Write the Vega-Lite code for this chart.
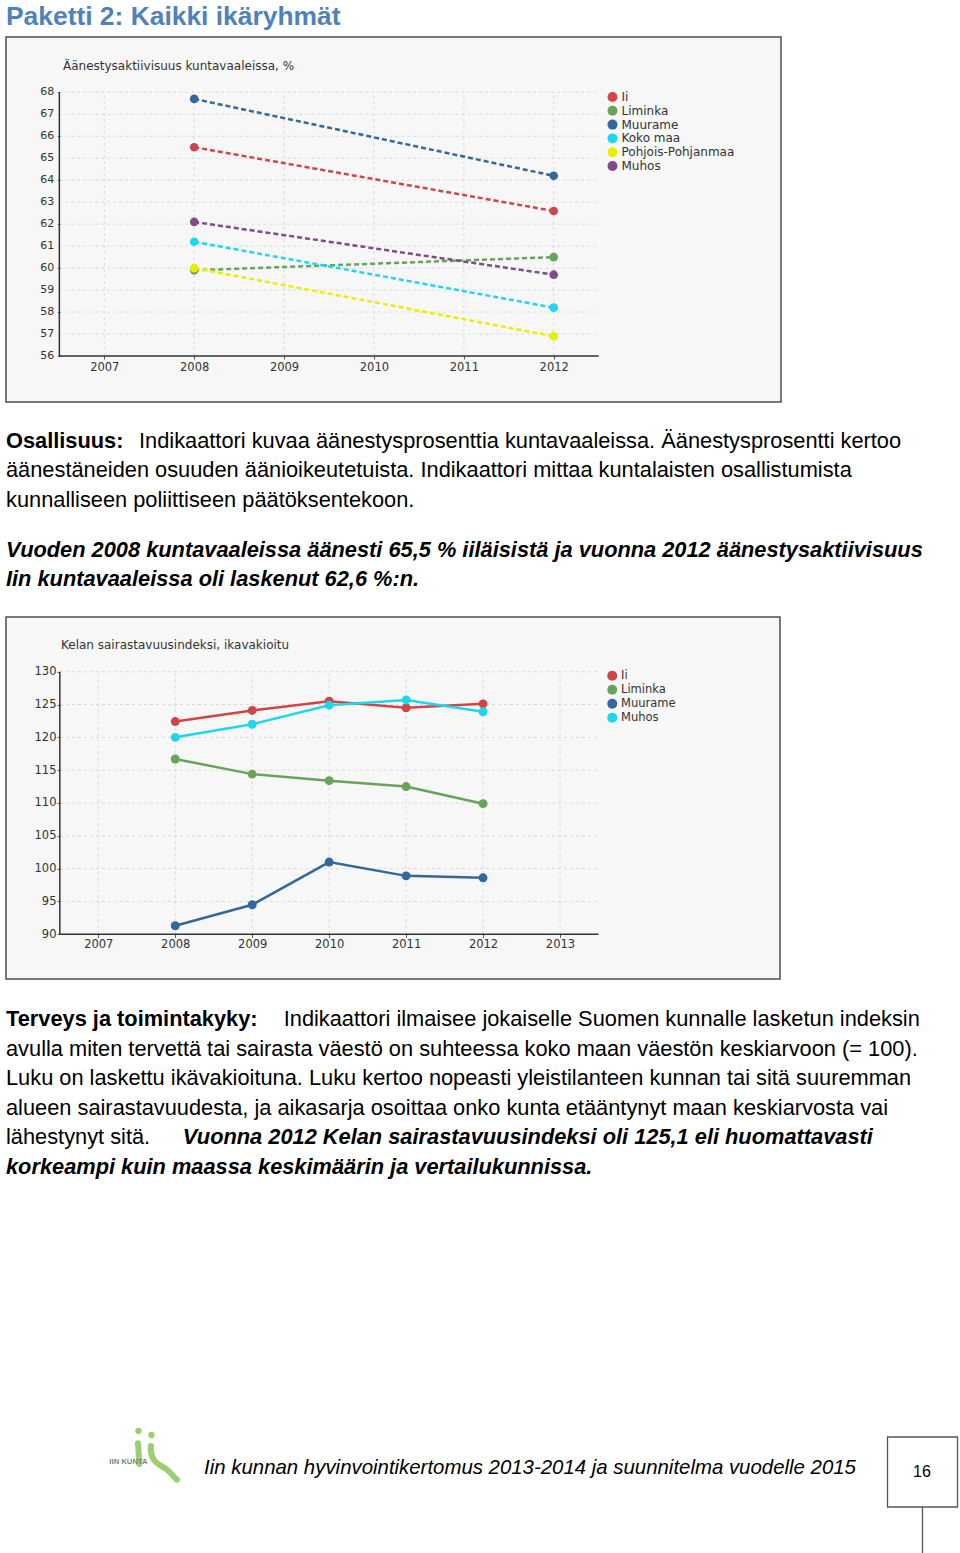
{
  "$schema": "https://vega.github.io/schema/vega-lite/v6.json",
  "background": "white",
  "padding": {"left": 5, "top": 0, "right": 0, "bottom": 0},
  "bounds": "flush",
  "spacing": 0,
  "config": {"view": {"stroke": null}, "font": "Liberation Sans"},
  "resolve": {"scale": {"x": "independent", "y": "independent", "color": "independent", "stroke": "independent"}, "legend": {"color": "independent", "stroke": "independent"}},
  "datasets": {
    "c1": [
      {"kunta": "Ii", "year": 2008, "v": 65.5}, {"kunta": "Ii", "year": 2012, "v": 62.6},
      {"kunta": "Liminka", "year": 2008, "v": 59.9}, {"kunta": "Liminka", "year": 2012, "v": 60.5},
      {"kunta": "Muurame", "year": 2008, "v": 67.7}, {"kunta": "Muurame", "year": 2012, "v": 64.2},
      {"kunta": "Koko maa", "year": 2008, "v": 61.2}, {"kunta": "Koko maa", "year": 2012, "v": 58.2},
      {"kunta": "Pohjois-Pohjanmaa", "year": 2008, "v": 60.0}, {"kunta": "Pohjois-Pohjanmaa", "year": 2012, "v": 56.9},
      {"kunta": "Muhos", "year": 2008, "v": 62.1}, {"kunta": "Muhos", "year": 2012, "v": 59.7}
    ],
    "c2": [
      {"kunta": "Ii", "year": 2008, "v": 122.4}, {"kunta": "Ii", "year": 2009, "v": 124.1}, {"kunta": "Ii", "year": 2010, "v": 125.5}, {"kunta": "Ii", "year": 2011, "v": 124.5}, {"kunta": "Ii", "year": 2012, "v": 125.1},
      {"kunta": "Liminka", "year": 2008, "v": 116.7}, {"kunta": "Liminka", "year": 2009, "v": 114.4}, {"kunta": "Liminka", "year": 2010, "v": 113.4}, {"kunta": "Liminka", "year": 2011, "v": 112.5}, {"kunta": "Liminka", "year": 2012, "v": 109.9},
      {"kunta": "Muurame", "year": 2008, "v": 91.3}, {"kunta": "Muurame", "year": 2009, "v": 94.5}, {"kunta": "Muurame", "year": 2010, "v": 101.0}, {"kunta": "Muurame", "year": 2011, "v": 98.9}, {"kunta": "Muurame", "year": 2012, "v": 98.6},
      {"kunta": "Muhos", "year": 2008, "v": 120.0}, {"kunta": "Muhos", "year": 2009, "v": 122.0}, {"kunta": "Muhos", "year": 2010, "v": 124.9}, {"kunta": "Muhos", "year": 2011, "v": 125.7}, {"kunta": "Muhos", "year": 2012, "v": 123.9}
    ],
    "g1y": [{"g": 57}, {"g": 58}, {"g": 59}, {"g": 60}, {"g": 61}, {"g": 62}, {"g": 63}, {"g": 64}, {"g": 65}, {"g": 66}, {"g": 67}, {"g": 68}],
    "l1y": [{"g": 56}, {"g": 57}, {"g": 58}, {"g": 59}, {"g": 60}, {"g": 61}, {"g": 62}, {"g": 63}, {"g": 64}, {"g": 65}, {"g": 66}, {"g": 67}, {"g": 68}],
    "g1x": [{"yr": 2007}, {"yr": 2008}, {"yr": 2009}, {"yr": 2010}, {"yr": 2011}, {"yr": 2012}],
    "g2y": [{"g": 95}, {"g": 100}, {"g": 105}, {"g": 110}, {"g": 115}, {"g": 120}, {"g": 125}, {"g": 130}],
    "g2x": [{"yr": 2007}, {"yr": 2008}, {"yr": 2009}, {"yr": 2010}, {"yr": 2011}, {"yr": 2012}, {"yr": 2013}],
    "one": [{}],
    "head": [{"text": "Paketti 2: Kaikki ikäryhmät"}],
    "p1": [
      {"line": 1, "seg": 1, "style": "b", "text": "Osallisuus:"},
      {"line": 1, "seg": 2, "style": "n", "text": "Indikaattori kuvaa äänestysprosenttia kuntavaaleissa. Äänestysprosentti kertoo"},
      {"line": 2, "seg": 1, "style": "n", "text": "äänestäneiden osuuden äänioikeutetuista. Indikaattori mittaa kuntalaisten osallistumista"},
      {"line": 3, "seg": 1, "style": "n", "text": "kunnalliseen poliittiseen päätöksentekoon."}
    ],
    "p2": [
      {"line": 1, "seg": 1, "style": "bi", "text": "Vuoden 2008 kuntavaaleissa äänesti 65,5 % iiläisistä ja vuonna 2012 äänestysaktiivisuus"},
      {"line": 2, "seg": 1, "style": "bi", "text": "Iin kuntavaaleissa oli laskenut 62,6 %:n."}
    ],
    "p3": [
      {"line": 1, "seg": 1, "style": "b", "text": "Terveys ja toimintakyky:"},
      {"line": 1, "seg": 2, "style": "n", "text": "Indikaattori ilmaisee jokaiselle Suomen kunnalle lasketun indeksin"},
      {"line": 2, "seg": 1, "style": "n", "text": "avulla miten tervettä tai sairasta väestö on suhteessa koko maan väestön keskiarvoon (= 100)."},
      {"line": 3, "seg": 1, "style": "n", "text": "Luku on laskettu ikävakioituna. Luku kertoo nopeasti yleistilanteen kunnan tai sitä suuremman"},
      {"line": 4, "seg": 1, "style": "n", "text": "alueen sairastavuudesta, ja aikasarja osoittaa onko kunta etääntynyt maan keskiarvosta vai"},
      {"line": 5, "seg": 1, "style": "n", "text": "lähestynyt sitä."},
      {"line": 5, "seg": 2, "style": "bi", "text": "Vuonna 2012 Kelan sairastavuusindeksi oli 125,1 eli huomattavasti"},
      {"line": 6, "seg": 1, "style": "bi", "text": "korkeampi kuin maassa keskimäärin ja vertailukunnissa."}
    ],
    "foot": [{"t": "Iin kunnan hyvinvointikertomus 2013-2014 ja suunnitelma vuodelle 2015"}],
    "logo": [{"t": "IIN KUNTA"}],
    "page": [{"t": "16"}]
  },
  "vconcat": [
    {
      "width": 950, "height": 37,
      "data": {"name": "head"},
      "mark": {"type": "text", "align": "left", "baseline": "middle", "dy": -1.5, "font": "Liberation Sans", "fontWeight": "bold", "fontSize": 26.4, "color": "#4f81bd"},
      "encoding": {
        "x": {"datum": 0, "type": "quantitative", "scale": {"domain": [0, 1]}, "axis": null},
        "text": {"field": "text"}
      }
    },
    {
      "width": 775, "height": 365,
      "view": {"fill": "#f7f7f7", "stroke": "#4d4d4d", "strokeWidth": 1.5},
      "title": {"text": "Äänestysaktiivisuus kuntavaaleissa, %", "anchor": "start", "frame": "group", "offset": -36, "dx": 57, "font": "DejaVu Sans", "fontSize": 12, "fontWeight": "normal", "color": "#333333"},
      "layer": [
        {
          "data": {"name": "g1y"},
          "mark": {"type": "rule", "color": "#dadada", "strokeWidth": 1, "strokeDash": [3, 3]},
          "encoding": {
            "y": {"field": "g", "type": "quantitative", "scale": {"domain": [53.9067, 70.5165], "nice": false, "zero": false},
              "axis": {"values": [56, 57, 58, 59, 60, 61, 62, 63, 64, 65, 66, 67, 68], "offset": -54.3, "domain": false, "grid": false, "labels": false, "tickSize": 3, "tickColor": "#555555", "title": null}},
            "x": {"datum": 2006.5, "type": "quantitative", "scale": {"domain": [2005.9063, 2014.5289], "nice": false, "zero": false},
              "axis": {"values": [2007, 2008, 2009, 2010, 2011, 2012], "format": "d", "offset": -46, "domain": false, "grid": false, "tickSize": 3, "tickColor": "#555555", "labelPadding": 2, "labelFont": "DejaVu Sans", "labelFontSize": 11.5, "labelColor": "#333333", "title": null, "labelOverlap": false, "labelFlush": false}},
            "x2": {"datum": 2012.5}
          }
        },
        {
          "data": {"name": "g1x"},
          "mark": {"type": "rule", "color": "#dadada", "strokeWidth": 1, "strokeDash": [3, 3]},
          "encoding": {
            "x": {"field": "yr", "type": "quantitative", "scale": {"domain": [2005.9063, 2014.5289], "nice": false, "zero": false}},
            "y": {"datum": 56, "type": "quantitative", "scale": {"domain": [53.9067, 70.5165], "nice": false, "zero": false}},
            "y2": {"datum": 68}
          }
        },
        {
          "data": {"name": "l1y"},
          "mark": {"type": "text", "align": "right", "baseline": "middle", "dx": -5, "font": "DejaVu Sans", "fontSize": 11, "color": "#333333"},
          "encoding": {
            "x": {"datum": 2006.5, "type": "quantitative", "scale": {"domain": [2005.9063, 2014.5289], "nice": false, "zero": false}},
            "y": {"field": "g", "type": "quantitative", "scale": {"domain": [53.9067, 70.5165], "nice": false, "zero": false}},
            "text": {"field": "g", "type": "quantitative", "format": "d"}
          }
        },
        {
          "data": {"name": "one"},
          "mark": {"type": "rule", "color": "#333333", "strokeWidth": 1.5},
          "encoding": {
            "y": {"datum": 56, "type": "quantitative", "scale": {"domain": [53.9067, 70.5165], "nice": false, "zero": false}},
            "x": {"datum": 2006.5, "type": "quantitative", "scale": {"domain": [2005.9063, 2014.5289], "nice": false, "zero": false}},
            "x2": {"datum": 2012.5}
          }
        },
        {
          "data": {"name": "one"},
          "mark": {"type": "rule", "color": "#333333", "strokeWidth": 1.5},
          "encoding": {
            "x": {"datum": 2006.5, "type": "quantitative", "scale": {"domain": [2005.9063, 2014.5289], "nice": false, "zero": false}},
            "y": {"datum": 56, "type": "quantitative", "scale": {"domain": [53.9067, 70.5165], "nice": false, "zero": false}},
            "y2": {"datum": 68}
          }
        },
        {
          "data": {"name": "c1"},
          "mark": {"type": "line", "strokeWidth": 2.5, "strokeDash": [5, 3]},
          "encoding": {
            "x": {"field": "year", "type": "quantitative", "scale": {"domain": [2005.9063, 2014.5289], "nice": false, "zero": false}},
            "y": {"field": "v", "type": "quantitative", "scale": {"domain": [53.9067, 70.5165], "nice": false, "zero": false}},
            "stroke": {"field": "kunta", "type": "nominal", "scale": {"domain": ["Muhos", "Pohjois-Pohjanmaa", "Koko maa", "Muurame", "Liminka", "Ii"], "range": ["#7f4b8c", "#e8f000", "#20d6ee", "#33689b", "#69a35b", "#d04646"]}, "legend": null}
          }
        },
        {
          "data": {"name": "c1"},
          "mark": {"type": "circle", "size": 75, "opacity": 1},
          "encoding": {
            "x": {"field": "year", "type": "quantitative", "scale": {"domain": [2005.9063, 2014.5289], "nice": false, "zero": false}},
            "y": {"field": "v", "type": "quantitative", "scale": {"domain": [53.9067, 70.5165], "nice": false, "zero": false}},
            "color": {"field": "kunta", "type": "nominal", "scale": {"domain": ["Ii", "Liminka", "Muurame", "Koko maa", "Pohjois-Pohjanmaa", "Muhos"], "range": ["#d04646", "#69a35b", "#33689b", "#20d6ee", "#e8f000", "#7f4b8c"]},
              "legend": {"orient": "none", "legendX": 600.5, "legendY": 54, "title": null, "padding": 0, "symbolType": "circle", "symbolSize": 100, "symbolStrokeWidth": 0, "symbolOpacity": 1, "labelFont": "DejaVu Sans", "labelFontSize": 12, "labelColor": "#333333", "labelOffset": 3, "rowPadding": 1.8}}
          }
        }
      ]
    },
    {
      "width": 950, "height": 126,
      "data": {"name": "p1"},
      "encoding": {
        "x": {"datum": 0, "type": "quantitative", "scale": {"domain": [0, 1]}, "axis": null},
        "y": {"field": "line", "type": "quantitative", "scale": {"domain": [-0.5593, 3.7119], "reverse": true, "nice": false, "zero": false}, "axis": null},
        "text": {"field": "text"}
      },
      "layer": [
        {"transform": [{"filter": "datum.style == 'b'"}], "mark": {"type": "text", "align": "left", "baseline": "alphabetic", "font": "Liberation Sans", "fontSize": 21.8, "fontWeight": "bold", "color": "#000000"}},
        {"transform": [{"filter": "datum.style == 'n' && datum.seg == 1"}], "mark": {"type": "text", "align": "left", "baseline": "alphabetic", "font": "Liberation Sans", "fontSize": 21.8, "color": "#000000"}},
        {"transform": [{"filter": "datum.seg == 2"}], "mark": {"type": "text", "align": "left", "baseline": "alphabetic", "dx": 133, "font": "Liberation Sans", "fontSize": 21.8, "color": "#000000"}}
      ]
    },
    {
      "width": 950, "height": 89,
      "data": {"name": "p2"},
      "mark": {"type": "text", "align": "left", "baseline": "alphabetic", "font": "Liberation Sans", "fontSize": 21.8, "fontWeight": "bold", "fontStyle": "italic", "color": "#000000"},
      "encoding": {
        "x": {"datum": 0, "type": "quantitative", "scale": {"domain": [0, 1]}, "axis": null},
        "y": {"field": "line", "type": "quantitative", "scale": {"domain": [0.01695, 3.0339], "reverse": true, "nice": false, "zero": false}, "axis": null},
        "text": {"field": "text"}
      }
    },
    {
      "width": 774, "height": 362,
      "view": {"fill": "#f7f7f7", "stroke": "#4d4d4d", "strokeWidth": 1.5},
      "title": {"text": "Kelan sairastavuusindeksi, ikavakioitu", "anchor": "start", "frame": "group", "offset": -34.5, "dx": 55, "font": "DejaVu Sans", "fontSize": 12, "fontWeight": "normal", "color": "#333333"},
      "layer": [
        {
          "data": {"name": "g2y"},
          "mark": {"type": "rule", "color": "#dadada", "strokeWidth": 1, "strokeDash": [3, 3]},
          "encoding": {
            "y": {"field": "g", "type": "quantitative", "scale": {"domain": [83.191, 138.332], "nice": false, "zero": false},
              "axis": {"values": [90, 95, 100, 105, 110, 115, 120, 125, 130], "offset": -54, "domain": false, "grid": false, "tickSize": 3, "tickColor": "#555555", "labelPadding": 1, "labelFont": "DejaVu Sans", "labelFontSize": 11.5, "labelColor": "#333333", "title": null, "labelOverlap": false, "labelFlush": false}},
            "x": {"datum": 2006.5, "type": "quantitative", "scale": {"domain": [2005.8005, 2015.859], "nice": false, "zero": false},
              "axis": {"values": [2007, 2008, 2009, 2010, 2011, 2012, 2013], "format": "d", "offset": -44.7, "domain": false, "grid": false, "tickSize": 3, "tickColor": "#555555", "labelPadding": 1, "labelFont": "DejaVu Sans", "labelFontSize": 11.5, "labelColor": "#333333", "title": null, "labelOverlap": false, "labelFlush": false}},
            "x2": {"datum": 2013.5}
          }
        },
        {
          "data": {"name": "g2x"},
          "mark": {"type": "rule", "color": "#dadada", "strokeWidth": 1, "strokeDash": [3, 3]},
          "encoding": {
            "x": {"field": "yr", "type": "quantitative", "scale": {"domain": [2005.8005, 2015.859], "nice": false, "zero": false}},
            "y": {"datum": 90, "type": "quantitative", "scale": {"domain": [83.191, 138.332], "nice": false, "zero": false}},
            "y2": {"datum": 130}
          }
        },
        {
          "data": {"name": "one"},
          "mark": {"type": "rule", "color": "#333333", "strokeWidth": 1.5},
          "encoding": {
            "y": {"datum": 90, "type": "quantitative", "scale": {"domain": [83.191, 138.332], "nice": false, "zero": false}},
            "x": {"datum": 2006.5, "type": "quantitative", "scale": {"domain": [2005.8005, 2015.859], "nice": false, "zero": false}},
            "x2": {"datum": 2013.5}
          }
        },
        {
          "data": {"name": "one"},
          "mark": {"type": "rule", "color": "#333333", "strokeWidth": 1.5},
          "encoding": {
            "x": {"datum": 2006.5, "type": "quantitative", "scale": {"domain": [2005.8005, 2015.859], "nice": false, "zero": false}},
            "y": {"datum": 90, "type": "quantitative", "scale": {"domain": [83.191, 138.332], "nice": false, "zero": false}},
            "y2": {"datum": 130}
          }
        },
        {
          "data": {"name": "c2"},
          "mark": {"type": "line", "strokeWidth": 2.5},
          "encoding": {
            "x": {"field": "year", "type": "quantitative", "scale": {"domain": [2005.8005, 2015.859], "nice": false, "zero": false}},
            "y": {"field": "v", "type": "quantitative", "scale": {"domain": [83.191, 138.332], "nice": false, "zero": false}},
            "stroke": {"field": "kunta", "type": "nominal", "scale": {"domain": ["Muhos", "Muurame", "Liminka", "Ii"], "range": ["#20d6ee", "#33689b", "#69a35b", "#d04646"]}, "legend": null}
          }
        },
        {
          "data": {"name": "c2"},
          "mark": {"type": "circle", "size": 80, "opacity": 1},
          "encoding": {
            "x": {"field": "year", "type": "quantitative", "scale": {"domain": [2005.8005, 2015.859], "nice": false, "zero": false}},
            "y": {"field": "v", "type": "quantitative", "scale": {"domain": [83.191, 138.332], "nice": false, "zero": false}},
            "color": {"field": "kunta", "type": "nominal", "scale": {"domain": ["Ii", "Liminka", "Muurame", "Muhos"], "range": ["#d04646", "#69a35b", "#33689b", "#20d6ee"]},
              "legend": {"orient": "none", "legendX": 600.5, "legendY": 53, "title": null, "padding": 0, "symbolType": "circle", "symbolSize": 100, "symbolStrokeWidth": 0, "symbolOpacity": 1, "labelFont": "DejaVu Sans", "labelFontSize": 11.5, "labelColor": "#333333", "labelOffset": 3, "rowPadding": 1.0}}
          }
        }
      ]
    },
    {
      "width": 950, "height": 458,
      "data": {"name": "p3"},
      "encoding": {
        "x": {"datum": 0, "type": "quantitative", "scale": {"domain": [0, 1]}, "axis": null},
        "y": {"field": "line", "type": "quantitative", "scale": {"domain": [-0.5878, 14.885], "reverse": true, "nice": false, "zero": false}, "axis": null},
        "text": {"field": "text"}
      },
      "layer": [
        {"transform": [{"filter": "datum.style == 'b'"}], "mark": {"type": "text", "align": "left", "baseline": "alphabetic", "font": "Liberation Sans", "fontSize": 21.8, "fontWeight": "bold", "color": "#000000"}},
        {"transform": [{"filter": "datum.style == 'n' && datum.seg == 1"}], "mark": {"type": "text", "align": "left", "baseline": "alphabetic", "font": "Liberation Sans", "fontSize": 21.8, "color": "#000000"}},
        {"transform": [{"filter": "datum.style == 'bi' && datum.seg == 1"}], "mark": {"type": "text", "align": "left", "baseline": "alphabetic", "font": "Liberation Sans", "fontSize": 21.8, "fontWeight": "bold", "fontStyle": "italic", "color": "#000000"}},
        {"transform": [{"filter": "datum.style == 'n' && datum.seg == 2"}], "mark": {"type": "text", "align": "left", "baseline": "alphabetic", "dx": 277.7, "font": "Liberation Sans", "fontSize": 21.8, "color": "#000000"}},
        {"transform": [{"filter": "datum.style == 'bi' && datum.seg == 2"}], "mark": {"type": "text", "align": "left", "baseline": "alphabetic", "dx": 176.7, "font": "Liberation Sans", "fontSize": 21.8, "fontWeight": "bold", "fontStyle": "italic", "color": "#000000"}}
      ]
    },
    {
      "width": 951, "height": 116,
      "layer": [
        {
          "data": {"name": "one"},
          "mark": {"type": "rule", "color": "#555555", "strokeWidth": 1.3, "xOffset": 441},
          "encoding": {"x": {"datum": 0.5, "type": "quantitative", "scale": {"domain": [0, 1]}, "axis": null}}
        },
        {
          "data": {"name": "page"},
          "mark": {"type": "square", "size": 4900, "filled": true, "fill": "#ffffff", "stroke": "#555555", "strokeWidth": 1.3, "opacity": 1, "xOffset": 441, "yOffset": -23},
          "encoding": {}
        },
        {
          "data": {"name": "page"},
          "mark": {"type": "text", "baseline": "middle", "dx": 440.5, "dy": -23, "font": "Liberation Sans", "fontSize": 16, "color": "#000000"},
          "encoding": {"text": {"field": "t"}}
        },
        {
          "data": {"name": "logo"},
          "mark": {"type": "point", "shape": "M-0.75,-0.45 L-0.7,0.35 M-0.25,-0.35 C-0.3,0.25 0.05,0.35 0.35,0.55 C0.55,0.7 0.6,0.85 0.75,0.95", "size": 2704, "filled": false, "stroke": "#9ccf74", "strokeWidth": 6, "strokeCap": "round", "opacity": 1, "xOffset": -324, "yOffset": -40},
          "encoding": {}
        },
        {
          "data": {"name": "logo"},
          "mark": {"type": "point", "shape": "circle", "size": 40, "filled": true, "fill": "#9ccf74", "opacity": 1, "xOffset": -343, "yOffset": -64},
          "encoding": {}
        },
        {
          "data": {"name": "logo"},
          "mark": {"type": "point", "shape": "circle", "size": 40, "filled": true, "fill": "#9ccf74", "opacity": 1, "xOffset": -330, "yOffset": -60},
          "encoding": {}
        },
        {
          "data": {"name": "logo"},
          "mark": {"type": "text", "baseline": "middle", "dx": -353, "dy": -33, "font": "Liberation Sans", "fontWeight": "bold", "fontSize": 7.7, "color": "#808080"},
          "encoding": {"text": {"field": "t"}}
        },
        {
          "data": {"name": "foot"},
          "mark": {"type": "text", "baseline": "middle", "dx": 48.5, "dy": -27, "font": "Liberation Sans", "fontStyle": "italic", "fontSize": 20.4, "color": "#000000"},
          "encoding": {"text": {"field": "t"}}
        }
      ]
    }
  ]
}
